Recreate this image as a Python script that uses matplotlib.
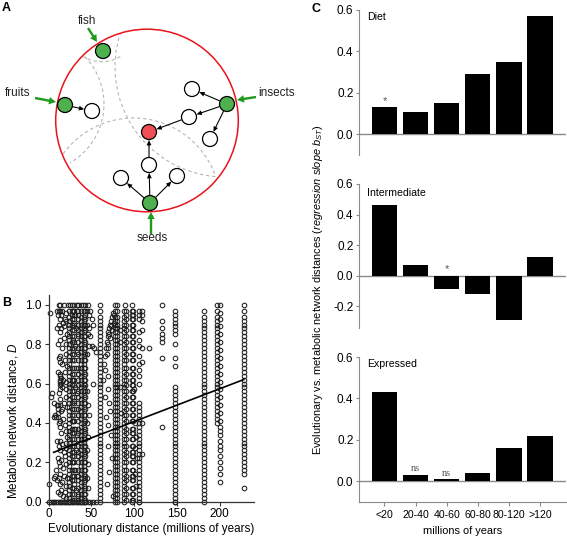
import matplotlib
matplotlib.use("Agg")
import matplotlib.pyplot as plt
from matplotlib.patches import Circle, Arc
import numpy as np

# ---------------- panel A: toy metabolic network (pixel coordinates) ----------------
node_x = [103, 65, 227, 150, 149, 92, 192, 189, 210, 149, 121, 177]
node_y = [51, 105, 104, 203, 132, 111, 89, 117, 139, 165, 178, 176]
node_kind = ["food", "food", "food", "food", "target",
             "mid", "mid", "mid", "mid", "mid", "mid", "mid"]
edges = [(1, 5), (2, 6), (2, 7), (2, 8), (7, 4), (3, 9), (3, 10), (3, 11), (9, 4)]

food_labels = ["fish", "fruits", "insects", "seeds"]
food_label_xy = [(87, 21), (18, 93), (277, 93), (152, 238)]
food_arrow_from = [(88, 28), (35, 98), (256, 97), (151, 234)]
food_arrow_to = [(97, 42), (56, 102), (237, 100), (151, 212)]

arc_cx = [133.5, 225, 36, 101.7]
arc_cy = [205, 67, 104, 25.7]
arc_r = [87, 110, 68, 36]
arc_t1 = [216, 95, -44, 59]
arc_t2 = [340, 198, 60, 121]

# ---------------- panel B: distance pairs ----------------
# dense stacks of D values (x100) at the common divergence times
stack_full = [0, 2, 4, 6, 8, 10, 12, 14, 16, 18, 20, 22, 24, 26, 28, 30, 32, 34,
              36, 38, 40, 42, 44, 46, 48, 50, 52, 54, 56, 58, 60, 62, 64, 66, 68,
              70, 72, 74, 76, 78, 80, 82, 84, 86, 88, 90, 92, 94, 97]
stack_gappy = [1, 4, 7, 11, 13, 16, 20, 23, 25, 28, 32, 35, 37, 41, 44, 47, 50,
               53, 56, 59, 62, 65, 68, 72, 75, 78, 81, 84, 87, 90, 93, 95, 97]
full_cols = [24, 38, 41, 60, 78, 80, 88, 182]
gappy_cols = [27, 30, 35, 43, 91, 97, 99]

col148 = [0, 2, 4, 6, 8, 10, 12, 14, 16, 18, 20, 22, 24, 26, 28, 30, 32, 34, 36,
          38, 40, 42, 44, 46, 48, 50, 52, 54, 56, 58, 69, 73, 80, 85, 87, 89, 91,
          93, 95, 97]
col106 = [0, 2, 4, 6, 8, 10, 12, 14, 16, 18, 20, 22, 24, 26, 28, 30, 32, 34, 36,
          38, 40, 42, 44, 46, 48, 50, 60, 64, 67, 70, 74, 79, 82, 86, 93, 95, 97]
col109 = [97, 95, 92, 87, 78, 71, 40, 24]
col117 = [78]
col132 = [100, 92, 88, 85, 83, 81, 73, 38]
col197 = [40, 42, 44, 46, 48, 50, 52, 54, 56, 58, 60, 62, 64, 66, 68, 70, 72, 74,
          76, 78, 80, 82, 84, 86, 88, 90, 92, 94, 97, 100]
col200 = [10, 14, 17, 20, 23, 26, 28, 31, 34, 36, 38, 41, 45, 49, 53, 57, 61, 65,
          69, 73, 77, 81, 85, 89, 93, 96, 100]
col228 = [7, 14, 16, 18, 20, 22, 24, 26, 28, 30, 32, 34, 36, 38, 40, 42, 44, 46,
          48, 50, 52, 54, 56, 58, 60, 62, 64, 66, 68, 70, 72, 74, 76, 78, 80, 82,
          84, 86, 88, 90, 92, 94, 97, 100]

zero_row_x = [1, 3, 5, 7, 9, 11, 13, 15, 17, 19, 21, 23, 25, 27, 29, 31, 33, 35,
              37, 39, 41, 43, 46, 49, 52, 56, 97, 106, 148]
top_row_x = [12, 14, 18, 23, 25, 28, 30, 33, 35, 38, 40, 43, 46, 60, 78, 80, 89, 97]

cloud = [
    (2, 96), (1, 9), (3, 53), (4, 55), (6, 50), (7, 43), (8, 44), (9, 43), (10, 49), (11, 49),
    (6, 12), (8, 13), (9, 16), (10, 97), (11, 95), (12, 97), (13, 93), (14, 97), (15, 95), (16, 97),
    (10, 88), (12, 90), (13, 86), (15, 88), (17, 91), (18, 89), (19, 93), (20, 96), (21, 92),
    (11, 80), (13, 82), (16, 78), (18, 83), (20, 80), (22, 85),
    (12, 73), (13, 71), (14, 74), (16, 70), (19, 72), (21, 75), (22, 69),
    (11, 66), (13, 64), (14, 62), (15, 63), (15, 60), (16, 58), (17, 62), (19, 66), (20, 61), (21, 57),
    (13, 65), (13, 61), (13, 59), (13, 57), (11, 47), (11, 45),
    (12, 55), (13, 52), (14, 49), (15, 46), (16, 47), (18, 50), (20, 53), (22, 48),
    (11, 43), (12, 40), (13, 41), (14, 38), (15, 35), (17, 42), (19, 39), (20, 36), (22, 33),
    (10, 31), (12, 28), (13, 26), (14, 31), (16, 29), (18, 25), (20, 27), (21, 30),
    (11, 22), (12, 20), (14, 18), (15, 21), (17, 17), (19, 23), (21, 19),
    (10, 11), (12, 12), (13, 9), (14, 14), (16, 10), (18, 13), (20, 8), (22, 12),
    (11, 5), (13, 4), (15, 6), (17, 3), (19, 5), (21, 2),
    (29, 97), (31, 95), (33, 97), (30, 91), (32, 88), (34, 85), (29, 82), (31, 79), (33, 76),
    (30, 72), (32, 68), (34, 65), (29, 62), (31, 58), (33, 55), (30, 51), (32, 47), (34, 44),
    (29, 41), (31, 37), (33, 34), (30, 30), (32, 26), (34, 23), (29, 20), (31, 16), (33, 13),
    (30, 9), (32, 6), (34, 3),
    (45, 97), (47, 95), (49, 97), (51, 93), (45, 90), (47, 88), (52, 90), (46, 85), (49, 84),
    (47, 79), (51, 79), (53, 78), (55, 76), (45, 75), (52, 60), (45, 56), (46, 49), (47, 44),
    (45, 40), (46, 33), (45, 26), (46, 19), (45, 12), (46, 7),
    (64, 62), (65, 70), (66, 74), (67, 78), (68, 81), (69, 84), (70, 86), (71, 88), (72, 90),
    (73, 92), (74, 94), (75, 96), (76, 95), (70, 80), (72, 83), (74, 87), (68, 75), (66, 67),
    (73, 89), (71, 85), (76, 91), (69, 78), (70, 64), (69, 57), (71, 50), (72, 46), (67, 43),
    (70, 39), (73, 34), (70, 28), (74, 22), (71, 15), (68, 9), (75, 3), (66, 53),
    (83, 87), (84, 81), (83, 58), (85, 45),
    (101, 40), (102, 33), (101, 27), (103, 22), (101, 14), (102, 8), (100, 57),
]

fit_x = [6, 228]
fit_y = [0.25, 0.62]

# ---------------- panel C: regression slopes per age class ----------------
periods = ["<20", "20-40", "40-60", "60-80", "80-120", ">120"]
diet = [0.13, 0.11, 0.15, 0.29, 0.35, 0.57]
intermediate = [0.46, 0.07, -0.09, -0.12, -0.29, 0.12]
expressed = [0.43, 0.03, 0.01, 0.04, 0.16, 0.22]
diet_marks = [("*", 0, 0.16)]
intermediate_marks = [("*", 2, 0.04)]
expressed_marks = [("ns", 1, 0.06), ("ns", 2, 0.04)]

plt.rcParams["font.family"] = ["Liberation Sans", "DejaVu Sans"]
plt.rcParams["axes.unicode_minus"] = False
plt.rcParams["mathtext.fontset"] = "custom"
plt.rcParams["mathtext.it"] = "Liberation Sans:italic"
plt.rcParams["mathtext.rm"] = "Liberation Sans"

W, H = 567, 539
fig = plt.figure(figsize=(W / 100, H / 100), dpi=100)


def box(x0, y0, x1, y1):
    # pixel box (origin top-left) -> figure rect
    return [x0 / W, 1 - y1 / H, (x1 - x0) / W, (y1 - y0) / H]


# ---- A ----
axa = fig.add_axes(box(0, 0, 290, 280))
axa.set_xlim(0, 290)
axa.set_ylim(280, 0)
axa.axis("off")
for cx, cy, r, t1, t2 in zip(arc_cx, arc_cy, arc_r, arc_t1, arc_t2):
    axa.add_patch(Arc((cx, cy), 2 * r, 2 * r, theta1=t1, theta2=t2,
                      color="#b5b5b5", lw=0.8, ls=(0, (3, 2.5))))
axa.add_patch(Circle((147, 120.5), 91.3, fill=False, ec="#e8141b", lw=1.1))

fills = {"food": "#4fb04f", "target": "#f04f55", "mid": "white"}
for x, y, k in zip(node_x, node_y, node_kind):
    axa.add_patch(Circle((x, y), 7.5, fc=fills[k], ec="black", lw=0.9, zorder=4))

R = 7.8
for s, d in edges:
    x0, y0, x1, y1 = node_x[s], node_y[s], node_x[d], node_y[d]
    L = np.hypot(x1 - x0, y1 - y0)
    ux, uy = (x1 - x0) / L, (y1 - y0) / L
    axa.arrow(x0 + ux * R, y0 + uy * R, (L - 2 * R) * ux, (L - 2 * R) * uy,
              width=1.1, head_width=4.8, head_length=5.5, length_includes_head=True,
              fc="black", ec="black", lw=0, zorder=3)

for lab, (lx, ly), (ax0, ay0), (ax1, ay1) in zip(food_labels, food_label_xy,
                                                 food_arrow_from, food_arrow_to):
    axa.arrow(ax0, ay0, ax1 - ax0, ay1 - ay0, width=2.4, head_width=7.5, head_length=7,
              length_includes_head=True, fc="#1f9a1f", ec="#1f9a1f", lw=0, zorder=5)
    axa.text(lx, ly, lab, ha="center", va="center", fontsize=8.5, color="#222222")

# ---- B ----
axb = fig.add_axes(box(48.5, 295, 254, 501.5))
xs, ys = [], []
for c in full_cols:
    xs += [c] * len(stack_full)
    ys += stack_full
for c in gappy_cols:
    xs += [c] * len(stack_gappy)
    ys += stack_gappy
for c, vals in [(148, col148), (106, col106), (109, col109), (117, col117),
                (132, col132), (197, col197), (200, col200), (228, col228)]:
    xs += [c] * len(vals)
    ys += vals
xs += zero_row_x
ys += [0] * len(zero_row_x)
xs += top_row_x
ys += [100] * len(top_row_x)
xs += [p[0] for p in cloud]
ys += [p[1] for p in cloud]

axb.plot(xs, np.array(ys) / 100.0, "o", mfc="none", mec="#1e1e1e", ms=3.3, mew=0.75,
         clip_on=False, zorder=2)
axb.plot(fit_x, fit_y, color="black", lw=1.2, zorder=3)
axb.set_xlim(0, 240)
axb.set_ylim(0, 1.05)
axb.set_xticks([0, 50, 100, 150, 200])
axb.set_yticks([0.0, 0.2, 0.4, 0.6, 0.8, 1.0])
axb.set_yticklabels(["%.1f" % v for v in [0.0, 0.2, 0.4, 0.6, 0.8, 1.0]])
for sp in ["top", "right"]:
    axb.spines[sp].set_visible(False)
for sp in ["left", "bottom"]:
    axb.spines[sp].set_color("#333333")
    axb.spines[sp].set_linewidth(0.9)
axb.tick_params(labelsize=8.5, length=3, width=0.8, pad=2, color="#333333")
axb.set_xlabel("Evolutionary distance (millions of years)", fontsize=8.4, labelpad=2)
fig.text(13 / W, 1 - 421 / H, r"Metabolic network distance, $\mathit{D}$",
         rotation=90, ha="center", va="center", fontsize=8.4)

# ---- C ----
panels = [
    ("Diet", diet, diet_marks, (10, 155), (-0.1, 0.6), [0.0, 0.2, 0.4, 0.6]),
    ("Intermediate", intermediate, intermediate_marks, (184, 328.3), (-0.345, 0.6),
     [-0.2, 0.0, 0.2, 0.4, 0.6]),
    ("Expressed", expressed, expressed_marks, (357, 502), (-0.1, 0.6), [0.0, 0.2, 0.4, 0.6]),
]
gray = "#8a8a8a"
for i, (title, vals, marks, (ytop, ybot), ylim, yt) in enumerate(panels):
    ax = fig.add_axes(box(359, ytop, 566, ybot))
    pos = np.arange(len(periods))
    ax.bar(pos, vals, width=0.82, color="black", zorder=2)
    ax.axhline(0, color=gray, lw=1, zorder=1)
    ax.set_xlim(-0.82, 5.84)
    ax.set_ylim(*ylim)
    ax.set_yticks(yt)
    ax.set_yticklabels(["%.1f" % v for v in yt])
    for sp in ["top", "right"]:
        ax.spines[sp].set_visible(False)
    ax.spines["left"].set_color(gray)
    ax.tick_params(axis="y", labelsize=8.5, length=2, width=0.8, pad=2, color=gray)
    if i < 2:
        ax.spines["bottom"].set_visible(False)
        ax.set_xticks([])
    else:
        ax.spines["bottom"].set_color(gray)
        ax.set_xticks(pos)
        ax.set_xticklabels(periods)
        ax.tick_params(axis="x", labelsize=7.6, length=3, width=0.8, pad=3, color=gray)
        ax.set_xlabel("millions of years", fontsize=7.9, labelpad=4)
    ax.text(0.037, 0.95 if i != 1 else 0.937, title, transform=ax.transAxes,
            ha="left", va="center", fontsize=7.6)
    for txt, xi, yv in marks:
        if txt == "ns":
            ax.text(xi, yv, txt, ha="center", va="center", fontsize=7.5,
                    family=["Liberation Serif", "DejaVu Serif"], color="#555555")
        else:
            ax.text(xi, yv, txt, ha="center", va="center", fontsize=8, color="#555555")

fig.text(318 / W, 1 - 290 / H,
         r"Evolutionary vs. metabolic network distances ($\mathit{regression\ slope\ b_{ST}}$)",
         rotation=90, ha="center", va="center", fontsize=7.9)

# panel letters
fig.text(6 / W, 1 - 8 / H, "A", fontsize=9, fontweight="bold", ha="center", va="center")
fig.text(7 / W, 1 - 303 / H, "B", fontsize=9, fontweight="bold", ha="center", va="center")
fig.text(316 / W, 1 - 9 / H, "C", fontsize=9, fontweight="bold", ha="center", va="center")

fig.savefig("out.png", dpi=100)
